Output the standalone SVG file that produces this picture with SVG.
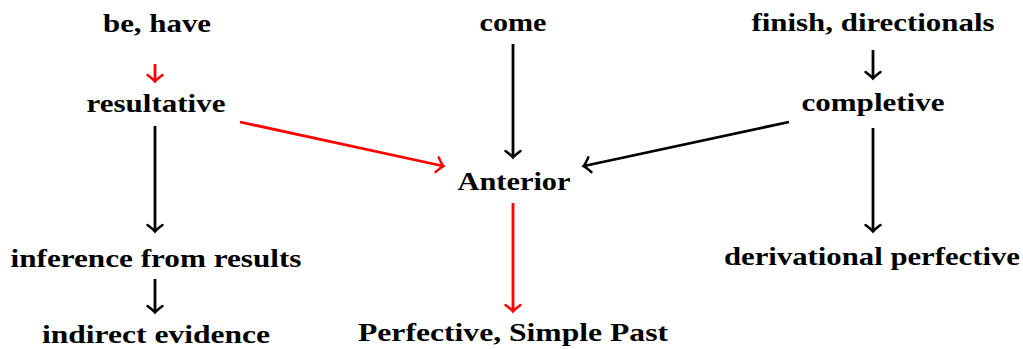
<svg xmlns="http://www.w3.org/2000/svg" width="1023" height="349" viewBox="0 0 1023 349">
<style>
text{font-family:"Liberation Serif","DejaVu Serif",serif;font-weight:bold;font-size:25px;fill:#000;text-anchor:middle}
.k{stroke:#000;stroke-width:2.8;fill:none}
.r{stroke:#f00;stroke-width:2.8;fill:none}
</style>
<defs>
<marker id="ak" markerUnits="userSpaceOnUse" viewBox="-10 -10 12 20" refX="0" refY="0" markerWidth="12" markerHeight="20" orient="auto" overflow="visible">
<path d="M-6,-7.5 Q-1.5,-1.5 0.5,0 Q-1.5,1.5 -6,7.5" fill="none" stroke="#000" stroke-width="2.5" stroke-linecap="round"/>
</marker>
<marker id="ar" markerUnits="userSpaceOnUse" viewBox="-10 -10 12 20" refX="0" refY="0" markerWidth="12" markerHeight="20" orient="auto" overflow="visible">
<path d="M-6,-7.5 Q-1.5,-1.5 0.5,0 Q-1.5,1.5 -6,7.5" fill="none" stroke="#f00" stroke-width="2.5" stroke-linecap="round"/>
</marker>
</defs>
<g id="connectors">
<line class="r" x1="155" y1="64" x2="155" y2="81" marker-end="url(#ar)"/>
<line class="k" x1="155" y1="126" x2="155" y2="231" marker-end="url(#ak)"/>
<line class="k" x1="155" y1="279" x2="155" y2="312" marker-end="url(#ak)"/>
<line class="r" x1="240" y1="122" x2="443" y2="166" marker-end="url(#ar)"/>
<line class="k" x1="513" y1="44" x2="513" y2="157" marker-end="url(#ak)"/>
<line class="k" x1="789" y1="122" x2="584" y2="166" marker-end="url(#ak)"/>
<line class="k" x1="873" y1="50" x2="873" y2="78" marker-end="url(#ak)"/>
<line class="k" x1="873" y1="128" x2="873" y2="231" marker-end="url(#ak)"/>
<line class="r" x1="513" y1="203" x2="513" y2="311" marker-end="url(#ar)"/>
</g>
<g id="n-be-have"><text x="157" y="32" textLength="108" lengthAdjust="spacingAndGlyphs">be, have</text></g>
<g id="n-come"><text x="513" y="31" textLength="67" lengthAdjust="spacingAndGlyphs">come</text></g>
<g id="n-finish"><text x="873" y="31" textLength="243" lengthAdjust="spacingAndGlyphs">finish, directionals</text></g>
<g id="n-resultative"><text x="156" y="112" textLength="139" lengthAdjust="spacingAndGlyphs">resultative</text></g>
<g id="n-completive"><text x="873" y="111" textLength="143" lengthAdjust="spacingAndGlyphs">completive</text></g>
<g id="n-anterior"><text x="514" y="190" textLength="113" lengthAdjust="spacingAndGlyphs">Anterior</text></g>
<g id="n-inference"><text x="156" y="267" textLength="291" lengthAdjust="spacingAndGlyphs">inference from results</text></g>
<g id="n-derivational"><text x="872" y="265" textLength="296" lengthAdjust="spacingAndGlyphs">derivational perfective</text></g>
<g id="n-indirect"><text x="156" y="343" textLength="228" lengthAdjust="spacingAndGlyphs">indirect evidence</text></g>
<g id="n-perfective"><text x="513" y="341" textLength="310" lengthAdjust="spacingAndGlyphs">Perfective, Simple Past</text></g>
</svg>
